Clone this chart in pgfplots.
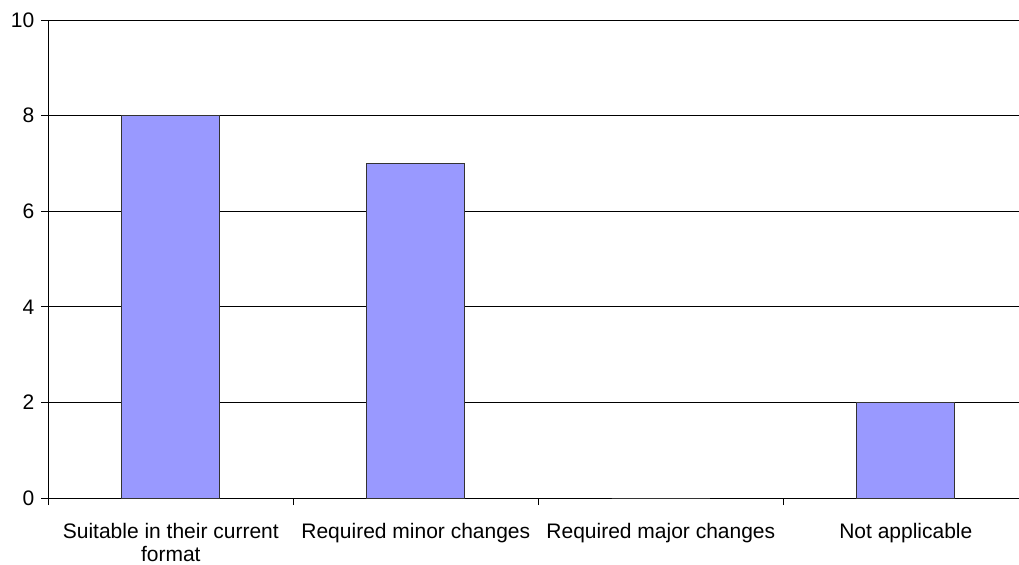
\documentclass[border=0pt]{standalone}
\usepackage{fontspec}
\setmainfont{Liberation Sans}
\usepackage{pgfplots}
\pgfplotsset{compat=1.18}
\definecolor{barblue}{HTML}{9999FF}
\begin{document}
\begin{tikzpicture}
\begin{axis}[
    name=ax,
    scale only axis,
    width=485.35pt, height=239pt,
    xmin=-0.5, xmax=3.462,
    ymin=0, ymax=10,
    axis x line*=bottom, axis y line*=left,
    axis line style={black, line width=0.5pt},
    ybar, bar width=0.4,
    ytick={0,2,4,6,8,10},
    ymajorgrids,
    major grid style={black, line width=0.5pt},
    xtick={-0.5,0.5,1.5,2.5},
    xticklabels={,,,},
    tick align=outside,
    major tick length=3.5pt,
    tick style={black, line width=0.5pt},
    extra x ticks={0,1,2,3},
    extra x tick labels={{Suitable in their current\\format},{Required minor changes},{Required major changes},{Not applicable}},
    extra x tick style={major tick length=0pt, tick label style={yshift=-9pt}},
    xticklabel style={align=center, font=\fontsize{10.5}{11.5}\selectfont},
    yticklabel style={font=\fontsize{10.5}{11.5}\selectfont},
    /pgf/number format/assume math mode=true,
]
    \addplot[fill=barblue, draw=black!80, line width=0.5pt]
        coordinates {(0,8) (1,7) (2,0) (3,2)};
\end{axis}
\pgfresetboundingbox
\path ([xshift=-24.15pt,yshift=-33pt]ax.south west) rectangle ([yshift=10pt]ax.north east);
\end{tikzpicture}
\end{document}
